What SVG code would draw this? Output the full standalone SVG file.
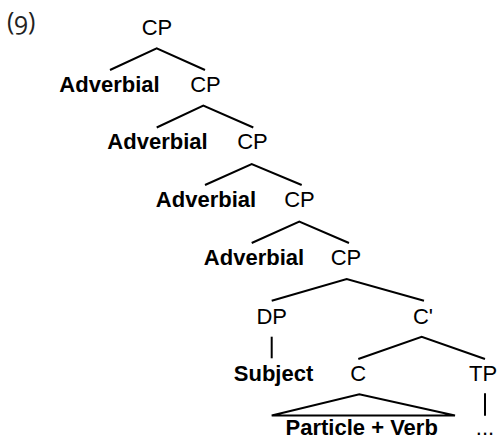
<svg xmlns="http://www.w3.org/2000/svg" width="498" height="442" viewBox="0 0 498 442">
  <style>
    .lbl { font-family: "Liberation Sans", Arial, sans-serif; font-size: 22px; fill: #000; text-anchor: middle; }
    .b { font-weight: bold; }
    .num { font-family: "Open Sans", "Lato", sans-serif; font-size: 25px; fill: #222; font-variant-numeric: oldstyle-nums; }
    .edge { stroke: #000; stroke-width: 2; fill: none; stroke-linejoin: miter; }
  </style>
  <rect width="498" height="442" fill="#fff"/>

  <text class="num" x="7" y="30">(9)</text>

  <g id="connectors">
    <polyline class="edge" points="110,70 156.7,48.3 205,70"/>
    <polyline class="edge" points="156.7,127.5 203.3,105.7 253.3,127.5"/>
    <polyline class="edge" points="205,185 251.7,164 301.7,185"/>
    <polyline class="edge" points="251.7,243 299.3,221.5 349,243"/>
    <polyline class="edge" points="271.7,300.7 346.7,279 424,300.7"/>
    <line class="edge" x1="271.7" y1="336.7" x2="271.7" y2="358.3"/>
    <polyline class="edge" points="358.3,359 421.7,336.7 485,359"/>
    <polygon class="edge" points="271.7,415.5 359.3,394.3 455,415.5"/>
    <line class="edge" x1="485" y1="393.3" x2="485" y2="415.7"/>
  </g>

  <g id="cp1"><text class="lbl" x="157" y="35">CP</text></g>
  <g id="adv1"><text class="lbl b" x="109.5" y="92">Adverbial</text></g>
  <g id="cp2"><text class="lbl" x="205.5" y="92">CP</text></g>
  <g id="adv2"><text class="lbl b" x="157.5" y="149">Adverbial</text></g>
  <g id="cp3"><text class="lbl" x="252.5" y="149">CP</text></g>
  <g id="adv3"><text class="lbl b" x="206" y="207">Adverbial</text></g>
  <g id="cp4"><text class="lbl" x="299.5" y="207">CP</text></g>
  <g id="adv4"><text class="lbl b" x="254" y="265">Adverbial</text></g>
  <g id="cp5"><text class="lbl" x="346" y="265">CP</text></g>
  <g id="dp"><text class="lbl" x="271.7" y="324">DP</text></g>
  <g id="cbar"><text class="lbl" x="423" y="324">C'</text></g>
  <g id="subject"><text class="lbl b" x="273.5" y="381">Subject</text></g>
  <g id="c"><text class="lbl" x="358.3" y="381">C</text></g>
  <g id="tp"><text class="lbl" x="483" y="381">TP</text></g>
  <g id="particle-verb"><text class="lbl b" x="361.7" y="435">Particle + Verb</text></g>
  <g id="tp-rest"><text class="lbl" x="485" y="435">...</text></g>
</svg>
